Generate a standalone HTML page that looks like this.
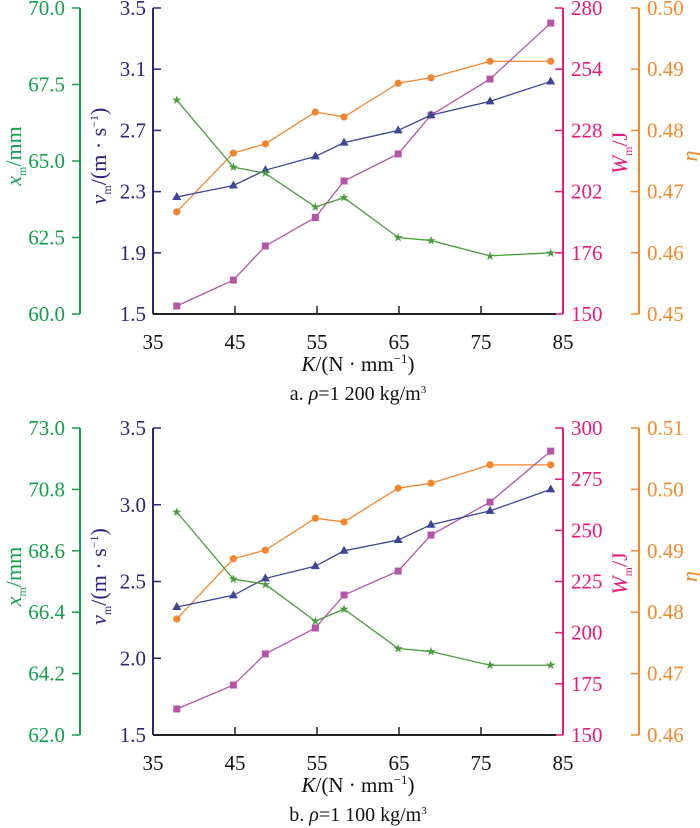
<!DOCTYPE html>
<html><head><meta charset="utf-8"><style>
body{margin:0;background:#fff;}
svg{display:block;}
text{font-family:"Liberation Serif","Times New Roman",serif;}
</style></head><body>
<svg id="chart" width="700" height="828" viewBox="0 0 700 828" font-family="Liberation Serif, serif"></svg>
<script>
const kValues = [37.9, 44.8, 48.7, 54.8, 58.3, 64.9, 68.9, 76.1, 83.5];
const xTicks = [35, 45, 55, 65, 75, 85];
// chart a
const aVel = [2.265, 2.34, 2.44, 2.53, 2.62, 2.70, 2.80, 2.89, 3.02];
const aX = [66.99, 64.8, 64.6, 63.5, 63.8, 62.5, 62.4, 61.9, 62.0];
const aEta = [0.4667, 0.4763, 0.4778, 0.4830, 0.4822, 0.4877, 0.4886, 0.4913, 0.4913];
const aW = [153.4, 164.4, 178.9, 191.0, 206.5, 218.0, 234.5, 249.8, 273.6];
const aXTicks = ["60.0","62.5","65.0","67.5","70.0"];
const aVTicks = ["1.5","1.9","2.3","2.7","3.1","3.5"];
const aWTicks = ["150","176","202","228","254","280"];
const aEtaTicks = ["0.45","0.46","0.47","0.48","0.49","0.50"];
// chart b
const bVel = [2.334, 2.41, 2.52, 2.60, 2.70, 2.77, 2.87, 2.96, 3.10];
const bX = [69.99, 67.59, 67.4, 66.08, 66.51, 65.1, 64.99, 64.5, 64.5];
const bEta = [0.4789, 0.4887, 0.4901, 0.4953, 0.4947, 0.5002, 0.5010, 0.5040, 0.5040];
const bW = [162.7, 174.4, 189.6, 202.3, 218.4, 230.1, 247.7, 263.8, 288.7];
const bXTicks = ["62.0","64.2","66.4","68.6","70.8","73.0"];
const bVTicks = ["1.5","2.0","2.5","3.0","3.5"];
const bWTicks = ["150","175","200","225","250","275","300"];
const bEtaTicks = ["0.46","0.47","0.48","0.49","0.50","0.51"];

const svg = document.getElementById('chart');
const NS = 'http://www.w3.org/2000/svg';
function mk(tag, attrs, parent){const e=document.createElementNS(NS,tag);for(const k in attrs)e.setAttribute(k,attrs[k]);if(tag==='text')e.setAttribute('font-family','Liberation Serif, serif');(parent||svg).appendChild(e);return e;}
const xScale = k => 153 + (k-35)*(563-153)/50;
const GREEN='#12a04a', BLUE='#35207a', MAG='#e8197d', ORA='#f28a2c';
const SG='#4a9c3c', SB='#3d4596', SM='#b455a8', SO='#f3852e';

function drawChart(id, top, bot, xT, vT, wT, eT, xs, vs, es, ws, caption){
  const g = mk('g',{});
  
  
  const tickY = (arr,i) => bot - i*(bot-top)/(arr.length-1);
  const lin = (v,arr) => { const lo=+arr[0], hi=+arr[arr.length-1]; return bot-(v-lo)/(hi-lo)*(bot-top); };
  const axes=[[80,GREEN,xT,-1,'x-axis-left-green'],[153,BLUE,vT,1,'v-axis-left'],[563,MAG,wT,-1,'w-axis-right'],[639,ORA,eT,-1,'eta-axis-right']];
  axes.forEach(([ax,col,ticks,dir,nm])=>{
    const ag=mk('g',{},g);
    
    
    mk('line',{x1:ax,y1:top,x2:ax,y2:bot,stroke:col,'stroke-width':2},ag);
    ticks.forEach((t,i)=>{
      const y=tickY(ticks,i);
      mk('line',{x1:ax,y1:y,x2:ax+dir*8,y2:y,stroke:col,'stroke-width':1.5},ag);
      let tx, anchor;
      if(nm==='x-axis-left-green'){tx=65;anchor='end';}
      else if(nm==='v-axis-left'){tx=146;anchor='end';}
      else {tx=ax+8;anchor='start';}
      const te=mk('text',{x:tx,y:y+7,'text-anchor':anchor,'font-size':21,fill:col},ag);
      te.textContent=t;
      
      
    });
  });
  const xg=mk('g',{},g);
  
  
  mk('line',{x1:153,y1:bot,x2:556,y2:bot,stroke:'#222','stroke-width':2},xg);
  xTicks.forEach(k=>{
    const x=xScale(k);
    if(k>35&&k<85) mk('line',{x1:x,y1:bot,x2:x,y2:bot-8,stroke:'#222','stroke-width':1.5},xg);
    const te=mk('text',{x:x,y:bot+35,'text-anchor':'middle','font-size':21,fill:'#111'},xg);
    te.textContent=k;
    
    
  });
  const xt=mk('text',{x:358,y:bot+57,'text-anchor':'middle','font-size':21,fill:'#111'},xg);
  xt.innerHTML='<tspan font-style="italic">K</tspan>/(N · mm<tspan font-size="13" dy="-8">−1</tspan><tspan dy="8">)</tspan>';
  
  
  const cap=mk('text',{x:358,y:bot+86,'text-anchor':'middle','font-size':20,fill:'#111'},g);
  cap.innerHTML=caption;
  
  
  const mid=(top+bot)/2;
  const t1=mk('text',{x:0,y:0,transform:`translate(21,${mid-5}) rotate(-90)`,'text-anchor':'middle','font-size':22,fill:GREEN},g);
  t1.innerHTML='<tspan font-style="italic">x</tspan><tspan font-size="12" dy="5">m</tspan><tspan dy="-5">/mm</tspan>';
  
  
  const t2=mk('text',{x:0,y:0,transform:`translate(106,${mid-5}) rotate(-90)`,'text-anchor':'middle','font-size':22,fill:BLUE},g);
  t2.innerHTML='<tspan font-style="italic">v</tspan><tspan font-size="12" dy="5">m</tspan><tspan dy="-5">/(m · s</tspan><tspan font-size="12" dy="-8">−1</tspan><tspan dy="8">)</tspan>';
  
  
  const t3=mk('text',{x:0,y:0,transform:`translate(627,${mid-8}) rotate(-90)`,'text-anchor':'middle','font-size':22,fill:MAG},g);
  t3.innerHTML='<tspan font-style="italic">W</tspan><tspan font-size="12" dy="5">m</tspan><tspan dy="-5">/J</tspan>';
  
  
  const t4=mk('text',{x:0,y:0,transform:`translate(697,${mid-5}) rotate(-90)`,'text-anchor':'middle','font-size':22,'font-style':'italic',fill:ORA},g);
  t4.textContent='η';
  
  
  const series=[
    ['series-eta',es,eT,SO,'circle'],
    ['series-w',ws,wT,SM,'square'],
    ['series-v',vs,vT,SB,'tri'],
    ['series-x',xs,xT,SG,'star']
  ];
  series.forEach(([nm,vals,ticks,col,shape])=>{
    const sg=mk('g',{},g);
    
    
    const pts=vals.map((v,i)=>[xScale(kValues[i]),lin(v,ticks)]);
    mk('polyline',{points:pts.map(p=>p.join(',')).join(' '),fill:'none',stroke:col,'stroke-width':1.3},sg);
    pts.forEach(([x,y])=>{
      let m;
      if(shape==='circle') m=mk('circle',{cx:x,cy:y,r:3.6,fill:col},sg);
      else if(shape==='square') m=mk('rect',{x:x-3.5,y:y-3.5,width:7,height:7,fill:col},sg);
      else if(shape==='tri') m=mk('polygon',{points:`${x},${y-5} ${x-4.5},${y+3} ${x+4.5},${y+3}`,fill:col},sg);
      else m=mk('text',{x:x,y:y+4,'text-anchor':'middle','font-size':12,fill:col},sg);
      if(shape==='star') m.textContent='★';
      
      
    });
  });
}
drawChart('chart-a',8,314,aXTicks,aVTicks,aWTicks,aEtaTicks,aX,aVel,aEta,aW,'a. <tspan font-style="italic">ρ</tspan>=1 200 kg/m<tspan font-size="11" dy="-7">3</tspan>');
drawChart('chart-b',428,735,bXTicks,bVTicks,bWTicks,bEtaTicks,bX,bVel,bEta,bW,'b. <tspan font-style="italic">ρ</tspan>=1 100 kg/m<tspan font-size="11" dy="-7">3</tspan>');
</script>
</body></html>
